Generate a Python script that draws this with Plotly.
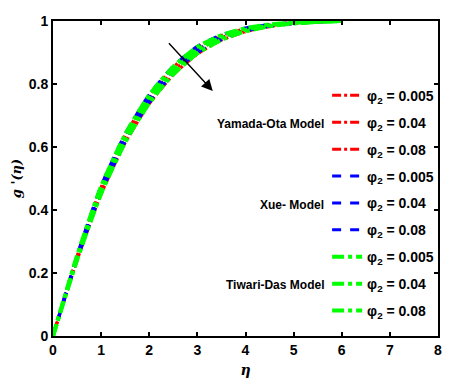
import plotly.graph_objects as go

eta = [0, 0.5, 1, 1.5, 2, 2.5, 3, 3.5, 4, 4.5, 5, 5.5, 6]

yo_005 = [0, 0.254, 0.473, 0.638, 0.763, 0.853, 0.916, 0.954, 0.976, 0.988, 0.995, 0.998, 1.0]
yo_04 = [0, 0.247, 0.462, 0.626, 0.750, 0.841, 0.906, 0.947, 0.971, 0.985, 0.994, 0.998, 1.0]
yo_08 = [0, 0.240, 0.450, 0.613, 0.737, 0.829, 0.895, 0.939, 0.966, 0.982, 0.992, 0.997, 1.0]

xue_005 = [0, 0.256, 0.477, 0.642, 0.767, 0.857, 0.920, 0.956, 0.978, 0.989, 0.995, 0.998, 1.0]
xue_04 = [0, 0.249, 0.466, 0.630, 0.754, 0.845, 0.910, 0.949, 0.973, 0.986, 0.994, 0.998, 1.0]
xue_08 = [0, 0.242, 0.454, 0.617, 0.741, 0.833, 0.899, 0.941, 0.968, 0.983, 0.992, 0.997, 1.0]

td_005 = [0, 0.255, 0.475, 0.640, 0.765, 0.855, 0.918, 0.955, 0.977, 0.989, 0.995, 0.998, 1.0]
td_04 = [0, 0.248, 0.464, 0.628, 0.752, 0.843, 0.908, 0.948, 0.972, 0.986, 0.994, 0.998, 1.0]
td_08 = [0, 0.241, 0.452, 0.615, 0.739, 0.831, 0.897, 0.940, 0.967, 0.983, 0.992, 0.997, 1.0]

phi_labels = ["0.005", "0.04", "0.08"]
model_names = ["Yamada-Ota Model", "Xue- Model", "Tiwari-Das Model"]
label_y = [0.673, 0.416, 0.162]

series = [
    (yo_005, "red", "dashdot", 3), (yo_04, "red", "dashdot", 3), (yo_08, "red", "dashdot", 3),
    (xue_005, "blue", "dash", 3), (xue_04, "blue", "dash", 3), (xue_08, "blue", "dash", 3),
    (td_005, "#00ff00", "dashdot", 4), (td_04, "#00ff00", "dashdot", 4), (td_08, "#00ff00", "dashdot", 4),
]

fig = go.Figure()
for i, (vals, col, dash, w) in enumerate(series):
    fig.add_trace(go.Scatter(
        x=eta, y=vals, mode="lines",
        line=dict(color=col, dash=dash, width=w, shape="spline", smoothing=0.6),
        name="φ<sub>2</sub> = " + phi_labels[i % 3],
        legendgroup="g%d" % i,
    ))

for name, yv in zip(model_names, label_y):
    fig.add_annotation(x=5.67, y=yv, xref="x", yref="y", text=name, showarrow=False,
                       xanchor="right", yanchor="middle",
                       font=dict(family="Liberation Sans", size=12, color="black", weight="bold"))

fig.add_annotation(x=3.32, y=0.778, ax=2.38, ay=0.934, xref="x", yref="y", axref="x", ayref="y",
                   text="", showarrow=True, arrowhead=2, arrowsize=1.6, arrowwidth=1.4, arrowcolor="black")

axis_common = dict(showline=True, linecolor="black", linewidth=2, mirror="ticks", ticks="inside",
                   ticklen=4, tickwidth=1.5, tickcolor="black", showgrid=False, zeroline=False,
                   automargin=False, layer="above traces",
                   tickfont=dict(family="Liberation Sans", size=14, color="black", weight="bold"))

fig.update_xaxes(range=[0, 8], dtick=1, title=dict(text="<i>η</i>", standoff=8,
                 font=dict(family="DejaVu Serif", size=14, color="black", weight="bold")), **axis_common)
fig.update_yaxes(range=[0, 1], tickvals=[0, 0.2, 0.4, 0.6, 0.8, 1],
                 ticktext=["0", "0.2", "0.4", "0.6", "0.8", "1"],
                 title=dict(text="<i>g '(η)</i>", standoff=4,
                 font=dict(family="DejaVu Serif", size=13, color="black", weight="bold")), **axis_common)

fig.update_layout(
    width=476, height=380,
    margin=dict(l=53, r=38, t=21, b=44),
    plot_bgcolor="white", paper_bgcolor="white",
    legend=dict(x=0.712, y=0.8135, xanchor="left", yanchor="top", bgcolor="rgba(0,0,0,0)",
                traceorder="grouped", tracegroupgap=5.7,
                font=dict(family="Liberation Sans", size=14, color="black", weight="bold")),
)

fig.write_html("out.html", config={"displayModeBar": False},
               post_script="document.body.style.margin='0px';")
